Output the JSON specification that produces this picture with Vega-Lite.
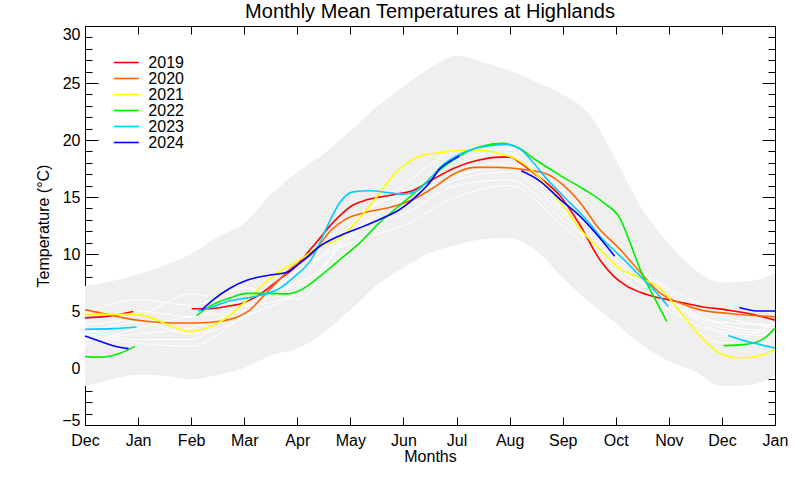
{
  "$schema": "https://vega.github.io/schema/vega-lite/v6.json",
  "width": 690,
  "height": 399,
  "autosize": "none",
  "padding": {"left": 85, "top": 26, "right": 25, "bottom": 55},
  "background": "white",
  "config": {
    "view": {"stroke": null},
    "font": "Liberation Sans",
    "axis": {"domainColor": "black", "tickColor": "black", "labelColor": "black", "titleColor": "black", "grid": false, "labelFont": "Liberation Sans", "titleFont": "Liberation Sans", "titleFontWeight": "normal", "labelFlush": false, "labelOverlap": false}
  },
  "title": {"text": "Monthly Mean Temperatures at Highlands", "fontSize": 20, "fontWeight": "normal", "font": "Liberation Sans", "color": "black", "anchor": "middle", "offset": 4},
  "datasets": {
    "band": [
      {"m": 0, "lo": -1.6, "hi": 7.2}, {"m": 0.5, "lo": -1.0, "hi": 7.6}, {"m": 1, "lo": -0.6, "hi": 8.2},
      {"m": 1.5, "lo": -0.7, "hi": 9.0}, {"m": 2, "lo": -1.0, "hi": 10.0}, {"m": 2.5, "lo": -0.6, "hi": 11.5},
      {"m": 3, "lo": 0.0, "hi": 12.7}, {"m": 3.5, "lo": 1.1, "hi": 15.2}, {"m": 4, "lo": 1.7, "hi": 17.2},
      {"m": 4.5, "lo": 3.1, "hi": 18.8}, {"m": 5, "lo": 5.1, "hi": 20.8}, {"m": 5.5, "lo": 7.3, "hi": 22.9},
      {"m": 6, "lo": 8.8, "hi": 24.7}, {"m": 6.5, "lo": 10.1, "hi": 26.3}, {"m": 7, "lo": 10.8, "hi": 27.4},
      {"m": 7.5, "lo": 11.3, "hi": 26.8}, {"m": 8, "lo": 11.4, "hi": 26.1}, {"m": 8.5, "lo": 10.3, "hi": 25.1},
      {"m": 9, "lo": 7.9, "hi": 24.0}, {"m": 9.5, "lo": 5.8, "hi": 22.3}, {"m": 10, "lo": 3.9, "hi": 18.3},
      {"m": 10.5, "lo": 2.0, "hi": 13.9}, {"m": 11, "lo": 0.6, "hi": 10.9}, {"m": 11.5, "lo": -0.3, "hi": 8.6},
      {"m": 12, "lo": -1.6, "hi": 7.5}, {"m": 12.5, "lo": -1.5, "hi": 7.6}, {"m": 13, "lo": -0.7, "hi": 8.3}
    ],
    "hist": [
      {"yr": "h1", "m": 0, "t": 3.0}, {"yr": "h1", "m": 1, "t": 2.2}, {"yr": "h1", "m": 2, "t": 1.9}, {"yr": "h1", "m": 3, "t": 4.5}, {"yr": "h1", "m": 4, "t": 6.5}, {"yr": "h1", "m": 5, "t": 10.5}, {"yr": "h1", "m": 6, "t": 14.0}, {"yr": "h1", "m": 7, "t": 16.5}, {"yr": "h1", "m": 8, "t": 17.2}, {"yr": "h1", "m": 9, "t": 13.5}, {"yr": "h1", "m": 10, "t": 9.0}, {"yr": "h1", "m": 11, "t": 6.0}, {"yr": "h1", "m": 12, "t": 3.2}, {"yr": "h1", "m": 13, "t": 2.8},
      {"yr": "h2", "m": 0, "t": 4.0}, {"yr": "h2", "m": 1, "t": 5.0}, {"yr": "h2", "m": 2, "t": 4.5}, {"yr": "h2", "m": 3, "t": 6.5}, {"yr": "h2", "m": 4, "t": 7.2}, {"yr": "h2", "m": 5, "t": 11.5}, {"yr": "h2", "m": 6, "t": 15.0}, {"yr": "h2", "m": 7, "t": 17.0}, {"yr": "h2", "m": 8, "t": 17.5}, {"yr": "h2", "m": 9, "t": 14.5}, {"yr": "h2", "m": 10, "t": 10.0}, {"yr": "h2", "m": 11, "t": 6.5}, {"yr": "h2", "m": 12, "t": 3.5}, {"yr": "h2", "m": 13, "t": 3.0},
      {"yr": "h3", "m": 0, "t": 2.5}, {"yr": "h3", "m": 1, "t": 3.0}, {"yr": "h3", "m": 2, "t": 3.5}, {"yr": "h3", "m": 3, "t": 5.5}, {"yr": "h3", "m": 4, "t": 8.0}, {"yr": "h3", "m": 5, "t": 12.0}, {"yr": "h3", "m": 6, "t": 13.5}, {"yr": "h3", "m": 7, "t": 16.0}, {"yr": "h3", "m": 8, "t": 16.5}, {"yr": "h3", "m": 9, "t": 13.0}, {"yr": "h3", "m": 10, "t": 9.5}, {"yr": "h3", "m": 11, "t": 5.5}, {"yr": "h3", "m": 12, "t": 2.2}, {"yr": "h3", "m": 13, "t": 4.0},
      {"yr": "h4", "m": 0, "t": 3.5}, {"yr": "h4", "m": 1, "t": 2.5}, {"yr": "h4", "m": 2, "t": 2.5}, {"yr": "h4", "m": 3, "t": 6.0}, {"yr": "h4", "m": 4, "t": 7.5}, {"yr": "h4", "m": 5, "t": 10.0}, {"yr": "h4", "m": 6, "t": 14.5}, {"yr": "h4", "m": 7, "t": 18.5}, {"yr": "h4", "m": 8, "t": 18.8}, {"yr": "h4", "m": 9, "t": 14.0}, {"yr": "h4", "m": 10, "t": 9.0}, {"yr": "h4", "m": 11, "t": 6.2}, {"yr": "h4", "m": 12, "t": 4.5}, {"yr": "h4", "m": 13, "t": 3.5},
      {"yr": "h5", "m": 0, "t": 4.8}, {"yr": "h5", "m": 1, "t": 6.0}, {"yr": "h5", "m": 2, "t": 5.5}, {"yr": "h5", "m": 3, "t": 7.0}, {"yr": "h5", "m": 4, "t": 6.0}, {"yr": "h5", "m": 5, "t": 12.5}, {"yr": "h5", "m": 6, "t": 16.0}, {"yr": "h5", "m": 7, "t": 19.0}, {"yr": "h5", "m": 8, "t": 19.2}, {"yr": "h5", "m": 9, "t": 15.5}, {"yr": "h5", "m": 10, "t": 10.5}, {"yr": "h5", "m": 11, "t": 7.0}, {"yr": "h5", "m": 12, "t": 5.0}, {"yr": "h5", "m": 13, "t": 4.5},
      {"yr": "h6", "m": 0, "t": 3.0}, {"yr": "h6", "m": 1, "t": 4.0}, {"yr": "h6", "m": 2, "t": 3.0}, {"yr": "h6", "m": 3, "t": 4.5}, {"yr": "h6", "m": 4, "t": 8.5}, {"yr": "h6", "m": 5, "t": 11.0}, {"yr": "h6", "m": 6, "t": 12.5}, {"yr": "h6", "m": 7, "t": 15.0}, {"yr": "h6", "m": 8, "t": 16.0}, {"yr": "h6", "m": 9, "t": 12.5}, {"yr": "h6", "m": 10, "t": 8.5}, {"yr": "h6", "m": 11, "t": 5.0}, {"yr": "h6", "m": 12, "t": 3.0}, {"yr": "h6", "m": 13, "t": 2.0},
      {"yr": "h7", "m": 0, "t": 2.0}, {"yr": "h7", "m": 1, "t": 3.5}, {"yr": "h7", "m": 2, "t": 4.5}, {"yr": "h7", "m": 3, "t": 5.0}, {"yr": "h7", "m": 4, "t": 9.0}, {"yr": "h7", "m": 5, "t": 13.0}, {"yr": "h7", "m": 6, "t": 15.5}, {"yr": "h7", "m": 7, "t": 17.5}, {"yr": "h7", "m": 8, "t": 18.0}, {"yr": "h7", "m": 9, "t": 13.8}, {"yr": "h7", "m": 10, "t": 9.8}, {"yr": "h7", "m": 11, "t": 6.8}, {"yr": "h7", "m": 12, "t": 3.8}, {"yr": "h7", "m": 13, "t": 3.2},
      {"yr": "h8", "m": 0, "t": 3.8}, {"yr": "h8", "m": 1, "t": 4.5}, {"yr": "h8", "m": 2, "t": 6.5}, {"yr": "h8", "m": 3, "t": 5.5}, {"yr": "h8", "m": 4, "t": 6.5}, {"yr": "h8", "m": 5, "t": 11.8}, {"yr": "h8", "m": 6, "t": 14.8}, {"yr": "h8", "m": 7, "t": 16.8}, {"yr": "h8", "m": 8, "t": 17.8}, {"yr": "h8", "m": 9, "t": 15.0}, {"yr": "h8", "m": 10, "t": 10.2}, {"yr": "h8", "m": 11, "t": 5.8}, {"yr": "h8", "m": 12, "t": 4.0}, {"yr": "h8", "m": 13, "t": 3.8}
    ],
    "recent": [
      {"year": "2019", "seg": "2019a", "m": 0, "t": 4.4}, {"year": "2019", "seg": "2019a", "m": 0.45, "t": 4.55}, {"year": "2019", "seg": "2019a", "m": 0.91, "t": 4.95},
      {"year": "2019", "seg": "2019b", "m": 2.01, "t": 5.2}, {"year": "2019", "seg": "2019b", "m": 2.35, "t": 5.2}, {"year": "2019", "seg": "2019b", "m": 2.67, "t": 5.4}, {"year": "2019", "seg": "2019b", "m": 2.98, "t": 5.7}, {"year": "2019", "seg": "2019b", "m": 3.29, "t": 6.45}, {"year": "2019", "seg": "2019b", "m": 3.67, "t": 7.8}, {"year": "2019", "seg": "2019b", "m": 3.92, "t": 8.7}, {"year": "2019", "seg": "2019b", "m": 4.3, "t": 10.7}, {"year": "2019", "seg": "2019b", "m": 4.68, "t": 12.8}, {"year": "2019", "seg": "2019b", "m": 5.05, "t": 14.3}, {"year": "2019", "seg": "2019b", "m": 5.31, "t": 14.75}, {"year": "2019", "seg": "2019b", "m": 5.81, "t": 15.2}, {"year": "2019", "seg": "2019b", "m": 6.19, "t": 15.6}, {"year": "2019", "seg": "2019b", "m": 6.5, "t": 16.4}, {"year": "2019", "seg": "2019b", "m": 6.94, "t": 17.5}, {"year": "2019", "seg": "2019b", "m": 7.38, "t": 18.2}, {"year": "2019", "seg": "2019b", "m": 7.82, "t": 18.5}, {"year": "2019", "seg": "2019b", "m": 8.01, "t": 18.5}, {"year": "2019", "seg": "2019b", "m": 8.2, "t": 18.0}, {"year": "2019", "seg": "2019b", "m": 8.51, "t": 16.9}, {"year": "2019", "seg": "2019b", "m": 8.95, "t": 15.1}, {"year": "2019", "seg": "2019b", "m": 9.33, "t": 12.5}, {"year": "2019", "seg": "2019b", "m": 9.7, "t": 9.5}, {"year": "2019", "seg": "2019b", "m": 9.95, "t": 8.1}, {"year": "2019", "seg": "2019b", "m": 10.2, "t": 7.2}, {"year": "2019", "seg": "2019b", "m": 10.58, "t": 6.45}, {"year": "2019", "seg": "2019b", "m": 11.08, "t": 5.9}, {"year": "2019", "seg": "2019b", "m": 11.59, "t": 5.4}, {"year": "2019", "seg": "2019b", "m": 12.09, "t": 5.1}, {"year": "2019", "seg": "2019b", "m": 12.59, "t": 4.7}, {"year": "2019", "seg": "2019b", "m": 13, "t": 4.2},
      {"year": "2020", "seg": "2020a", "m": 0, "t": 5.1}, {"year": "2020", "seg": "2020a", "m": 0.28, "t": 4.85}, {"year": "2020", "seg": "2020a", "m": 0.72, "t": 4.4}, {"year": "2020", "seg": "2020a", "m": 1.16, "t": 4.1}, {"year": "2020", "seg": "2020a", "m": 1.66, "t": 3.95}, {"year": "2020", "seg": "2020a", "m": 2.1, "t": 3.95}, {"year": "2020", "seg": "2020a", "m": 2.54, "t": 4.1}, {"year": "2020", "seg": "2020a", "m": 2.86, "t": 4.45}, {"year": "2020", "seg": "2020a", "m": 3.11, "t": 5.1}, {"year": "2020", "seg": "2020a", "m": 3.36, "t": 6.3}, {"year": "2020", "seg": "2020a", "m": 3.67, "t": 7.8}, {"year": "2020", "seg": "2020a", "m": 3.86, "t": 8.65}, {"year": "2020", "seg": "2020a", "m": 4.3, "t": 10.1}, {"year": "2020", "seg": "2020a", "m": 4.62, "t": 12.0}, {"year": "2020", "seg": "2020a", "m": 4.93, "t": 13.1}, {"year": "2020", "seg": "2020a", "m": 5.24, "t": 13.6}, {"year": "2020", "seg": "2020a", "m": 5.75, "t": 14.1}, {"year": "2020", "seg": "2020a", "m": 6.19, "t": 14.8}, {"year": "2020", "seg": "2020a", "m": 6.56, "t": 15.8}, {"year": "2020", "seg": "2020a", "m": 6.94, "t": 17.0}, {"year": "2020", "seg": "2020a", "m": 7.33, "t": 17.6}, {"year": "2020", "seg": "2020a", "m": 7.77, "t": 17.6}, {"year": "2020", "seg": "2020a", "m": 8.27, "t": 17.4}, {"year": "2020", "seg": "2020a", "m": 8.71, "t": 17.0}, {"year": "2020", "seg": "2020a", "m": 9.07, "t": 15.8}, {"year": "2020", "seg": "2020a", "m": 9.33, "t": 14.5}, {"year": "2020", "seg": "2020a", "m": 9.67, "t": 12.3}, {"year": "2020", "seg": "2020a", "m": 10.08, "t": 10.4}, {"year": "2020", "seg": "2020a", "m": 10.46, "t": 8.4}, {"year": "2020", "seg": "2020a", "m": 10.83, "t": 6.6}, {"year": "2020", "seg": "2020a", "m": 11.21, "t": 5.7}, {"year": "2020", "seg": "2020a", "m": 11.59, "t": 5.1}, {"year": "2020", "seg": "2020a", "m": 12.09, "t": 4.8}, {"year": "2020", "seg": "2020a", "m": 12.59, "t": 4.6}, {"year": "2020", "seg": "2020a", "m": 13, "t": 4.5},
      {"year": "2021", "seg": "2021a", "m": 0, "t": 4.7}, {"year": "2021", "seg": "2021a", "m": 0.41, "t": 4.7}, {"year": "2021", "seg": "2021a", "m": 0.85, "t": 4.7}, {"year": "2021", "seg": "2021a", "m": 1.16, "t": 4.55}, {"year": "2021", "seg": "2021a", "m": 1.48, "t": 3.95}, {"year": "2021", "seg": "2021a", "m": 1.79, "t": 3.4}, {"year": "2021", "seg": "2021a", "m": 1.98, "t": 3.2}, {"year": "2021", "seg": "2021a", "m": 2.29, "t": 3.5}, {"year": "2021", "seg": "2021a", "m": 2.61, "t": 4.25}, {"year": "2021", "seg": "2021a", "m": 2.92, "t": 5.4}, {"year": "2021", "seg": "2021a", "m": 3.23, "t": 6.75}, {"year": "2021", "seg": "2021a", "m": 3.55, "t": 8.1}, {"year": "2021", "seg": "2021a", "m": 4.05, "t": 9.5}, {"year": "2021", "seg": "2021a", "m": 4.43, "t": 10.7}, {"year": "2021", "seg": "2021a", "m": 4.8, "t": 11.4}, {"year": "2021", "seg": "2021a", "m": 5.05, "t": 12.5}, {"year": "2021", "seg": "2021a", "m": 5.31, "t": 13.9}, {"year": "2021", "seg": "2021a", "m": 5.56, "t": 15.4}, {"year": "2021", "seg": "2021a", "m": 5.81, "t": 16.9}, {"year": "2021", "seg": "2021a", "m": 6.05, "t": 17.9}, {"year": "2021", "seg": "2021a", "m": 6.31, "t": 18.6}, {"year": "2021", "seg": "2021a", "m": 6.69, "t": 18.9}, {"year": "2021", "seg": "2021a", "m": 7.06, "t": 19.1}, {"year": "2021", "seg": "2021a", "m": 7.44, "t": 19.1}, {"year": "2021", "seg": "2021a", "m": 7.82, "t": 18.8}, {"year": "2021", "seg": "2021a", "m": 8.13, "t": 18.3}, {"year": "2021", "seg": "2021a", "m": 8.38, "t": 17.5}, {"year": "2021", "seg": "2021a", "m": 8.7, "t": 16.0}, {"year": "2021", "seg": "2021a", "m": 9.01, "t": 14.2}, {"year": "2021", "seg": "2021a", "m": 9.33, "t": 12.2}, {"year": "2021", "seg": "2021a", "m": 9.7, "t": 10.4}, {"year": "2021", "seg": "2021a", "m": 10.08, "t": 8.7}, {"year": "2021", "seg": "2021a", "m": 10.46, "t": 7.9}, {"year": "2021", "seg": "2021a", "m": 10.83, "t": 7.0}, {"year": "2021", "seg": "2021a", "m": 11.08, "t": 5.7}, {"year": "2021", "seg": "2021a", "m": 11.33, "t": 4.25}, {"year": "2021", "seg": "2021a", "m": 11.65, "t": 2.5}, {"year": "2021", "seg": "2021a", "m": 11.96, "t": 1.3}, {"year": "2021", "seg": "2021a", "m": 12.28, "t": 0.9}, {"year": "2021", "seg": "2021a", "m": 12.59, "t": 0.95}, {"year": "2021", "seg": "2021a", "m": 12.84, "t": 1.3}, {"year": "2021", "seg": "2021a", "m": 13, "t": 1.65},
      {"year": "2022", "seg": "2022a", "m": 0, "t": 1.0}, {"year": "2022", "seg": "2022a", "m": 0.28, "t": 0.95}, {"year": "2022", "seg": "2022a", "m": 0.66, "t": 1.3}, {"year": "2022", "seg": "2022a", "m": 0.94, "t": 1.9},
      {"year": "2022", "seg": "2022b", "m": 2.1, "t": 4.6}, {"year": "2022", "seg": "2022b", "m": 2.42, "t": 5.6}, {"year": "2022", "seg": "2022b", "m": 2.73, "t": 6.15}, {"year": "2022", "seg": "2022b", "m": 3.04, "t": 6.55}, {"year": "2022", "seg": "2022b", "m": 3.42, "t": 6.55}, {"year": "2022", "seg": "2022b", "m": 3.8, "t": 6.5}, {"year": "2022", "seg": "2022b", "m": 4.05, "t": 6.8}, {"year": "2022", "seg": "2022b", "m": 4.43, "t": 8.06}, {"year": "2022", "seg": "2022b", "m": 4.8, "t": 9.5}, {"year": "2022", "seg": "2022b", "m": 5.18, "t": 11.0}, {"year": "2022", "seg": "2022b", "m": 5.56, "t": 12.8}, {"year": "2022", "seg": "2022b", "m": 5.94, "t": 14.3}, {"year": "2022", "seg": "2022b", "m": 6.31, "t": 15.8}, {"year": "2022", "seg": "2022b", "m": 6.69, "t": 17.4}, {"year": "2022", "seg": "2022b", "m": 7.06, "t": 18.6}, {"year": "2022", "seg": "2022b", "m": 7.44, "t": 19.4}, {"year": "2022", "seg": "2022b", "m": 7.88, "t": 19.7}, {"year": "2022", "seg": "2022b", "m": 8.13, "t": 19.4}, {"year": "2022", "seg": "2022b", "m": 8.51, "t": 18.2}, {"year": "2022", "seg": "2022b", "m": 8.95, "t": 16.9}, {"year": "2022", "seg": "2022b", "m": 9.39, "t": 15.7}, {"year": "2022", "seg": "2022b", "m": 9.77, "t": 14.5}, {"year": "2022", "seg": "2022b", "m": 10.08, "t": 13.1}, {"year": "2022", "seg": "2022b", "m": 10.27, "t": 11.0}, {"year": "2022", "seg": "2022b", "m": 10.46, "t": 8.65}, {"year": "2022", "seg": "2022b", "m": 10.71, "t": 6.3}, {"year": "2022", "seg": "2022b", "m": 10.96, "t": 4.1},
      {"year": "2022", "seg": "2022c", "m": 12.03, "t": 1.96}, {"year": "2022", "seg": "2022c", "m": 12.41, "t": 2.05}, {"year": "2022", "seg": "2022c", "m": 12.72, "t": 2.4}, {"year": "2022", "seg": "2022c", "m": 12.85, "t": 2.8}, {"year": "2022", "seg": "2022c", "m": 13, "t": 3.5},
      {"year": "2023", "seg": "2023a", "m": 0, "t": 3.4}, {"year": "2023", "seg": "2023a", "m": 0.53, "t": 3.45}, {"year": "2023", "seg": "2023a", "m": 0.97, "t": 3.6},
      {"year": "2023", "seg": "2023b", "m": 2.13, "t": 5.0}, {"year": "2023", "seg": "2023b", "m": 2.42, "t": 5.4}, {"year": "2023", "seg": "2023b", "m": 2.73, "t": 5.9}, {"year": "2023", "seg": "2023b", "m": 3.05, "t": 6.15}, {"year": "2023", "seg": "2023b", "m": 3.36, "t": 6.45}, {"year": "2023", "seg": "2023b", "m": 3.67, "t": 7.0}, {"year": "2023", "seg": "2023b", "m": 3.92, "t": 7.9}, {"year": "2023", "seg": "2023b", "m": 4.3, "t": 9.8}, {"year": "2023", "seg": "2023b", "m": 4.55, "t": 12.3}, {"year": "2023", "seg": "2023b", "m": 4.8, "t": 14.5}, {"year": "2023", "seg": "2023b", "m": 5.05, "t": 15.45}, {"year": "2023", "seg": "2023b", "m": 5.37, "t": 15.55}, {"year": "2023", "seg": "2023b", "m": 5.69, "t": 15.4}, {"year": "2023", "seg": "2023b", "m": 5.99, "t": 15.25}, {"year": "2023", "seg": "2023b", "m": 6.25, "t": 15.55}, {"year": "2023", "seg": "2023b", "m": 6.5, "t": 16.6}, {"year": "2023", "seg": "2023b", "m": 6.69, "t": 17.6}, {"year": "2023", "seg": "2023b", "m": 7.13, "t": 18.9}, {"year": "2023", "seg": "2023b", "m": 7.57, "t": 19.45}, {"year": "2023", "seg": "2023b", "m": 7.94, "t": 19.6}, {"year": "2023", "seg": "2023b", "m": 8.2, "t": 19.2}, {"year": "2023", "seg": "2023b", "m": 8.45, "t": 18.0}, {"year": "2023", "seg": "2023b", "m": 8.7, "t": 16.6}, {"year": "2023", "seg": "2023b", "m": 9.07, "t": 14.8}, {"year": "2023", "seg": "2023b", "m": 9.45, "t": 13.0}, {"year": "2023", "seg": "2023b", "m": 9.77, "t": 11.2}, {"year": "2023", "seg": "2023b", "m": 10.02, "t": 10.1}, {"year": "2023", "seg": "2023b", "m": 10.39, "t": 8.4}, {"year": "2023", "seg": "2023b", "m": 10.71, "t": 6.9}, {"year": "2023", "seg": "2023b", "m": 10.99, "t": 5.4},
      {"year": "2023", "seg": "2023c", "m": 12.12, "t": 2.85}, {"year": "2023", "seg": "2023c", "m": 12.41, "t": 2.4}, {"year": "2023", "seg": "2023c", "m": 12.72, "t": 2.05}, {"year": "2023", "seg": "2023c", "m": 13, "t": 1.75},
      {"year": "2024", "seg": "2024a", "m": 0, "t": 2.8}, {"year": "2024", "seg": "2024a", "m": 0.28, "t": 2.35}, {"year": "2024", "seg": "2024a", "m": 0.53, "t": 1.96}, {"year": "2024", "seg": "2024a", "m": 0.82, "t": 1.7},
      {"year": "2024", "seg": "2024b", "m": 2.2, "t": 5.1}, {"year": "2024", "seg": "2024b", "m": 2.42, "t": 6.0}, {"year": "2024", "seg": "2024b", "m": 2.73, "t": 7.0}, {"year": "2024", "seg": "2024b", "m": 3.05, "t": 7.7}, {"year": "2024", "seg": "2024b", "m": 3.42, "t": 8.1}, {"year": "2024", "seg": "2024b", "m": 3.8, "t": 8.4}, {"year": "2024", "seg": "2024b", "m": 4.05, "t": 9.2}, {"year": "2024", "seg": "2024b", "m": 4.43, "t": 10.7}, {"year": "2024", "seg": "2024b", "m": 4.8, "t": 11.6}, {"year": "2024", "seg": "2024b", "m": 5.18, "t": 12.3}, {"year": "2024", "seg": "2024b", "m": 5.56, "t": 13.05}, {"year": "2024", "seg": "2024b", "m": 5.93, "t": 13.9}, {"year": "2024", "seg": "2024b", "m": 6.25, "t": 15.1}, {"year": "2024", "seg": "2024b", "m": 6.5, "t": 16.3}, {"year": "2024", "seg": "2024b", "m": 6.69, "t": 17.5}, {"year": "2024", "seg": "2024b", "m": 6.94, "t": 18.3}, {"year": "2024", "seg": "2024b", "m": 7.05, "t": 18.6},
      {"year": "2024", "seg": "2024c", "m": 8.22, "t": 17.3}, {"year": "2024", "seg": "2024c", "m": 8.57, "t": 16.4}, {"year": "2024", "seg": "2024c", "m": 8.95, "t": 14.8}, {"year": "2024", "seg": "2024c", "m": 9.33, "t": 13.3}, {"year": "2024", "seg": "2024c", "m": 9.7, "t": 11.4}, {"year": "2024", "seg": "2024c", "m": 9.98, "t": 9.8},
      {"year": "2024", "seg": "2024d", "m": 12.33, "t": 5.3}, {"year": "2024", "seg": "2024d", "m": 12.66, "t": 5.0}, {"year": "2024", "seg": "2024d", "m": 13, "t": 5.0}
    ]
  },
  "layer": [
    {
      "data": {"name": "band"},
      "mark": {"type": "area", "interpolate": "monotone", "color": "#efefef"},
      "encoding": {
        "x": {"field": "m", "type": "quantitative", "scale": {"domain": [0, 13], "nice": false, "zero": false},
          "axis": {"orient": "bottom", "values": [0,1,2,3,4,5,6,7,8,9,10,11,12,13],
            "labelExpr": "['Dec','Jan','Feb','Mar','Apr','May','Jun','Jul','Aug','Sep','Oct','Nov','Dec','Jan'][datum.value]",
            "tickSize": -8, "labelPadding": 15, "labelFontSize": 16, "title": "Months", "titleFontSize": 16, "titlePadding": 0}},
        "y": {"field": "lo", "type": "quantitative", "scale": {"domain": [-5, 30], "nice": false, "zero": false},
          "axis": {"orient": "left", "values": [-5,-4,-3,-2,-1,0,1,2,3,4,5,6,7,8,9,10,11,12,13,14,15,16,17,18,19,20,21,22,23,24,25,26,27,28,29,30],
            "tickSize": {"condition": {"test": "datum.value % 5 === 0", "value": -13}, "value": -7},
            "labelExpr": "datum.value % 5 === 0 ? datum.label : ''",
            "labelBaseline": {"condition": [{"test": "datum.value === 30", "value": "top"}, {"test": "datum.value === -5", "value": "alphabetic"}], "value": "middle"},
            "labelPadding": 18, "labelFontSize": 16, "title": "Temperature (°C)", "titleFontSize": 16, "titlePadding": 10}},
        "y2": {"field": "hi"}
      }
    },
    {
      "data": {"name": "hist"},
      "mark": {"type": "line", "interpolate": "monotone", "color": "white", "strokeWidth": 1},
      "encoding": {
        "x": {"field": "m", "type": "quantitative", "axis": null},
        "y": {"field": "t", "type": "quantitative", "axis": null},
        "detail": {"field": "yr"}
      }
    },
    {
      "data": {"name": "recent"},
      "mark": {"type": "line", "interpolate": "monotone", "strokeWidth": 1.6},
      "encoding": {
        "x": {"field": "m", "type": "quantitative",
          "axis": {"orient": "top", "values": [0,1,2,3,4,5,6,7,8,9,10,11,12,13], "tickSize": -8, "labels": false, "title": null}},
        "y": {"field": "t", "type": "quantitative",
          "axis": {"orient": "right", "values": [-5,-4,-3,-2,-1,0,1,2,3,4,5,6,7,8,9,10,11,12,13,14,15,16,17,18,19,20,21,22,23,24,25,26,27,28,29,30],
            "tickSize": {"condition": {"test": "datum.value % 5 === 0", "value": -13}, "value": -7}, "labels": false, "title": null}},
        "color": {"field": "year", "type": "nominal",
          "scale": {"domain": ["2019","2020","2021","2022","2023","2024"], "range": ["#ff0000","#ff6600","#ffff00","#00ee00","#00ccff","#0000ff"]},
          "legend": {"orient": "none", "legendX": 33.35, "legendY": 28.5, "title": null, "symbolType": "M-2.03,0H2.03", "symbolSize": 151, "symbolStrokeWidth": 1.6, "labelFontSize": 16, "labelOffset": 14, "labelColor": "black", "labelFont": "Liberation Sans", "rowPadding": 0, "padding": 0}},
        "detail": {"field": "seg"}
      }
    }
  ],
  "resolve": {"axis": {"x": "independent", "y": "independent"}}
}
